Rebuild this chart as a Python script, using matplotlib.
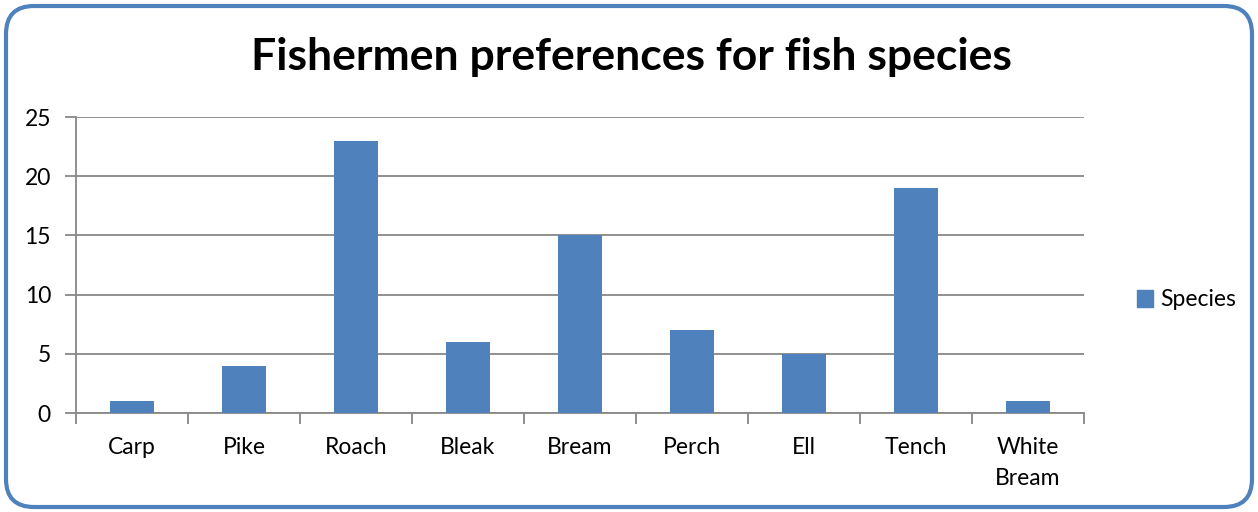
import numpy as np
import matplotlib.pyplot as plt
from matplotlib.patches import FancyBboxPatch, Patch

# data
species = ['Carp', 'Pike', 'Roach', 'Bleak', 'Bream', 'Perch', 'Ell', 'Tench', 'White\nBream']
counts = [1, 4, 23, 6, 15, 7, 5, 19, 1]
y_ticks = [0, 5, 10, 15, 20, 25]

bar_color = '#4F81BD'
grid_color = '#888888'

plt.rcParams['font.family'] = ['Lato', 'DejaVu Sans']

fig = plt.figure(figsize=(12.58, 5.12), dpi=100, facecolor='white')

# rounded chart border, drawn in a full-figure axes using pixel units
bg = fig.add_axes([0, 0, 1, 1], zorder=-1)
bg.set_xlim(0, 1258)
bg.set_ylim(0, 512)
bg.axis('off')
bg.add_patch(FancyBboxPatch((6, 5), 1246, 501,
                            boxstyle='round,pad=0,rounding_size=28',
                            facecolor='white', edgecolor=bar_color, linewidth=3))

ax = fig.add_axes([76 / 1258, 1 - 413 / 512, 1008 / 1258, 296 / 512])
ax.set_facecolor('none')

x = np.arange(len(species))
ax.bar(x, counts, width=0.4, color=bar_color, zorder=3)

ax.set_xlim(-0.5, len(species) - 0.5)
ax.set_ylim(0, 25)
ax.set_yticks(y_ticks)
ax.set_yticklabels([str(v) for v in y_ticks], fontsize=16.5)
ax.yaxis.grid(True, color=grid_color, linewidth=1.3, zorder=0)

ax.set_xticks(x)
ax.set_xticklabels(species, fontsize=16.5, linespacing=1.6)
ax.set_xticks(np.arange(-0.5, len(species)), minor=True)
ax.tick_params(axis='x', which='major', length=0, pad=17)
ax.tick_params(axis='x', which='minor', length=8, width=1.3, color=grid_color, direction='out')
ax.tick_params(axis='y', length=8, width=1.3, color=grid_color, pad=10)

for side in ['top', 'right']:
    ax.spines[side].set_visible(False)
for side in ['left', 'bottom']:
    ax.spines[side].set_color(grid_color)
    ax.spines[side].set_linewidth(1.3)

fig.text(631 / 1258, 1 - 57 / 512, 'Fishermen preferences for fish species',
         ha='center', va='center', fontsize=32, fontweight='bold')

fig.legend(handles=[Patch(color=bar_color, label='Species')],
           loc='center left', bbox_to_anchor=(1116 / 1258, 1 - 300 / 512),
           frameon=False, fontsize=16.5, handlelength=0.7, handleheight=0.7,
           handletextpad=0.35)

fig.savefig('out.png', dpi=100)
